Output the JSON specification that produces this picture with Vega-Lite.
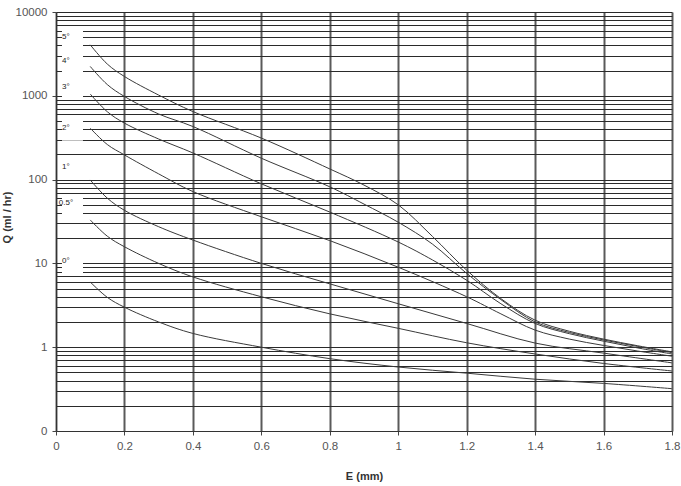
{
  "$schema": "https://vega.github.io/schema/vega-lite/v6.json",
  "width": 616,
  "height": 419,
  "autosize": {"type": "none"},
  "padding": {"left": 56, "top": 12, "right": 9, "bottom": 55},
  "background": "white",
  "config": {
    "view": {"stroke": null},
    "font": "Liberation Sans",
    "axis": {"labelFont": "Liberation Sans", "titleFont": "Liberation Sans"}
  },
  "datasets": {
    "curves": [
      {"s": "5°", "x": 0.1, "q": 4060}, {"s": "5°", "x": 0.15, "q": 2390}, {"s": "5°", "x": 0.2, "q": 1700}, {"s": "5°", "x": 0.3, "q": 1020}, {"s": "5°", "x": 0.4, "q": 649}, {"s": "5°", "x": 0.6, "q": 313}, {"s": "5°", "x": 0.8, "q": 134}, {"s": "5°", "x": 0.9, "q": 86}, {"s": "5°", "x": 1.0, "q": 50}, {"s": "5°", "x": 1.1, "q": 21}, {"s": "5°", "x": 1.2, "q": 8.3}, {"s": "5°", "x": 1.3, "q": 3.8}, {"s": "5°", "x": 1.4, "q": 2.1}, {"s": "5°", "x": 1.5, "q": 1.55}, {"s": "5°", "x": 1.6, "q": 1.25}, {"s": "5°", "x": 1.7, "q": 1.04}, {"s": "5°", "x": 1.8, "q": 0.88},
      {"s": "4°", "x": 0.1, "q": 2240}, {"s": "4°", "x": 0.15, "q": 1360}, {"s": "4°", "x": 0.2, "q": 982}, {"s": "4°", "x": 0.3, "q": 607}, {"s": "4°", "x": 0.4, "q": 430}, {"s": "4°", "x": 0.6, "q": 180}, {"s": "4°", "x": 0.8, "q": 82}, {"s": "4°", "x": 0.9, "q": 51}, {"s": "4°", "x": 1.0, "q": 31}, {"s": "4°", "x": 1.1, "q": 17}, {"s": "4°", "x": 1.2, "q": 7.6}, {"s": "4°", "x": 1.3, "q": 3.7}, {"s": "4°", "x": 1.4, "q": 2.0}, {"s": "4°", "x": 1.5, "q": 1.5}, {"s": "4°", "x": 1.6, "q": 1.22}, {"s": "4°", "x": 1.7, "q": 1.02}, {"s": "4°", "x": 1.8, "q": 0.86},
      {"s": "3°", "x": 0.1, "q": 1050}, {"s": "3°", "x": 0.15, "q": 645}, {"s": "3°", "x": 0.2, "q": 472}, {"s": "3°", "x": 0.3, "q": 305}, {"s": "3°", "x": 0.4, "q": 208}, {"s": "3°", "x": 0.6, "q": 89}, {"s": "3°", "x": 0.8, "q": 41}, {"s": "3°", "x": 1.0, "q": 18}, {"s": "3°", "x": 1.1, "q": 11}, {"s": "3°", "x": 1.2, "q": 6.3}, {"s": "3°", "x": 1.3, "q": 3.3}, {"s": "3°", "x": 1.4, "q": 1.92}, {"s": "3°", "x": 1.5, "q": 1.45}, {"s": "3°", "x": 1.6, "q": 1.18}, {"s": "3°", "x": 1.7, "q": 0.98}, {"s": "3°", "x": 1.8, "q": 0.83},
      {"s": "2°", "x": 0.1, "q": 411}, {"s": "2°", "x": 0.15, "q": 262}, {"s": "2°", "x": 0.2, "q": 197}, {"s": "2°", "x": 0.3, "q": 117}, {"s": "2°", "x": 0.4, "q": 72}, {"s": "2°", "x": 0.6, "q": 36}, {"s": "2°", "x": 0.8, "q": 18.7}, {"s": "2°", "x": 1.0, "q": 9.0}, {"s": "2°", "x": 1.2, "q": 4.0}, {"s": "2°", "x": 1.3, "q": 2.5}, {"s": "2°", "x": 1.4, "q": 1.6}, {"s": "2°", "x": 1.5, "q": 1.25}, {"s": "2°", "x": 1.6, "q": 1.05}, {"s": "2°", "x": 1.7, "q": 0.9}, {"s": "2°", "x": 1.8, "q": 0.78},
      {"s": "1°", "x": 0.1, "q": 99}, {"s": "1°", "x": 0.15, "q": 60}, {"s": "1°", "x": 0.2, "q": 43}, {"s": "1°", "x": 0.3, "q": 27.4}, {"s": "1°", "x": 0.4, "q": 19}, {"s": "1°", "x": 0.6, "q": 10}, {"s": "1°", "x": 0.8, "q": 5.7}, {"s": "1°", "x": 1.0, "q": 3.3}, {"s": "1°", "x": 1.2, "q": 1.92}, {"s": "1°", "x": 1.4, "q": 1.12}, {"s": "1°", "x": 1.6, "q": 0.85}, {"s": "1°", "x": 1.8, "q": 0.65},
      {"s": "0.5°", "x": 0.1, "q": 33}, {"s": "0.5°", "x": 0.15, "q": 21.1}, {"s": "0.5°", "x": 0.2, "q": 15.8}, {"s": "0.5°", "x": 0.3, "q": 10}, {"s": "0.5°", "x": 0.4, "q": 6.9}, {"s": "0.5°", "x": 0.6, "q": 4.0}, {"s": "0.5°", "x": 0.8, "q": 2.5}, {"s": "0.5°", "x": 1.0, "q": 1.68}, {"s": "0.5°", "x": 1.2, "q": 1.13}, {"s": "0.5°", "x": 1.4, "q": 0.83}, {"s": "0.5°", "x": 1.6, "q": 0.64}, {"s": "0.5°", "x": 1.8, "q": 0.52},
      {"s": "0°", "x": 0.1, "q": 6.0}, {"s": "0°", "x": 0.15, "q": 3.93}, {"s": "0°", "x": 0.2, "q": 3.0}, {"s": "0°", "x": 0.3, "q": 2.0}, {"s": "0°", "x": 0.4, "q": 1.46}, {"s": "0°", "x": 0.6, "q": 1.0}, {"s": "0°", "x": 0.8, "q": 0.73}, {"s": "0°", "x": 1.0, "q": 0.58}, {"s": "0°", "x": 1.2, "q": 0.49}, {"s": "0°", "x": 1.4, "q": 0.415}, {"s": "0°", "x": 1.6, "q": 0.37}, {"s": "0°", "x": 1.8, "q": 0.32}
    ],
    "labels": [
      {"t": "5°", "ly": 5000},
      {"t": "4°", "ly": 2620},
      {"t": "3°", "ly": 1290},
      {"t": "2°", "ly": 411},
      {"t": "1°", "ly": 141},
      {"t": "0.5°", "ly": 53},
      {"t": "0°", "ly": 10.8}
    ]
  },
  "layer": [
    {
      "data": {"name": "curves"},
      "mark": {"type": "line", "interpolate": "catmull-rom", "stroke": "#3a3a3a", "strokeWidth": 1},
      "encoding": {
        "x": {
          "field": "x", "type": "quantitative",
          "scale": {"domain": [0, 1.8], "nice": false, "zero": false},
          "axis": {
            "title": "E (mm)",
            "values": [0, 0.2, 0.4, 0.6, 0.8, 1, 1.2, 1.4, 1.6, 1.8],
            "format": ".1~f",
            "labelFlush": false,
            "labelOverlap": false,
            "labelFontSize": 11.5,
            "labelColor": "#555",
            "labelPadding": 5,
            "tickSize": 4,
            "tickColor": "#444",
            "domainColor": "#333",
            "domainWidth": 1,
            "grid": true,
            "gridColor": "#5a5a5a",
            "gridWidth": 2,
            "titleFontSize": 11,
            "titleFontWeight": "bold",
            "titleColor": "#333",
            "titleBaseline": "alphabetic",
            "titleY": 48
          }
        },
        "y": {
          "field": "q", "type": "quantitative",
          "scale": {"type": "log", "domain": [0.1, 10000], "nice": false},
          "axis": {
            "title": "Q (ml / hr)",
            "values": [0.1, 0.2, 0.3, 0.4, 0.5, 0.6, 0.7, 0.8, 0.9, 1, 2, 3, 4, 5, 6, 7, 8, 9, 10, 20, 30, 40, 50, 60, 70, 80, 90, 100, 200, 300, 400, 500, 600, 700, 800, 900, 1000, 2000, 3000, 4000, 5000, 6000, 7000, 8000, 9000, 10000],
            "labelExpr": "datum.value == 0.1 ? '0' : (indexof([1, 10, 100, 1000, 10000], datum.value) >= 0 ? format(datum.value, 'd') : '')",
            "labelOverlap": false,
            "labelFontSize": 11.5,
            "labelColor": "#555",
            "labelPadding": 5,
            "tickSize": 4,
            "tickColor": "#444",
            "tickOpacity": {"condition": {"test": "indexof([0.1, 1, 10, 100, 1000, 10000], datum.value) >= 0", "value": 1}, "value": 0},
            "domainColor": "#333",
            "domainWidth": 1,
            "grid": true,
            "gridColor": "#2a2a2a",
            "gridWidth": 1,
            "titleFontSize": 11,
            "titleFontWeight": "bold",
            "titleColor": "#333",
            "titleX": -49,
            "titleY": 205,
            "titleBaseline": "middle"
          }
        },
        "detail": {"field": "s", "type": "nominal"}
      }
    },
    {
      "data": {"name": "labels"},
      "mark": {"type": "point", "shape": "M-0.36,-0.68H1.55V1.14H-0.36Z", "size": 484, "filled": true, "fill": "white", "opacity": 1, "strokeWidth": 0},
      "encoding": {
        "x": {"datum": 0.029, "type": "quantitative"},
        "y": {"field": "ly", "type": "quantitative"}
      }
    },
    {
      "data": {"name": "labels"},
      "mark": {"type": "text", "fontSize": 8, "color": "#222", "fill": "#222", "font": "Liberation Sans", "align": "center", "baseline": "middle"},
      "encoding": {
        "x": {"datum": 0.029, "type": "quantitative"},
        "y": {"field": "ly", "type": "quantitative"},
        "text": {"field": "t"}
      }
    }
  ]
}
